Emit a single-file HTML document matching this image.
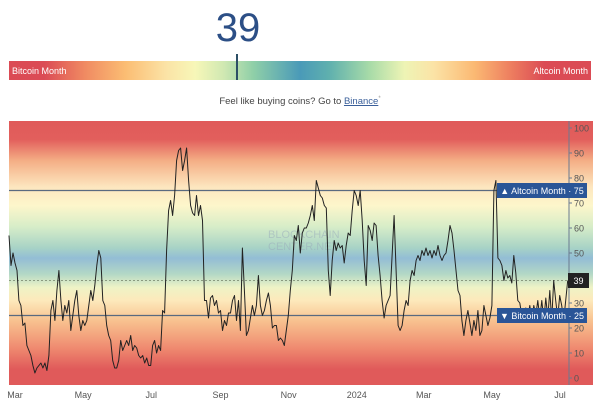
<!DOCTYPE html>
<html><head><meta charset="utf-8"><style>
body{margin:0;width:600px;height:406px;background:#fff;font-family:"Liberation Sans",sans-serif;overflow:hidden;position:relative}
.abs{position:absolute}
</style></head><body>
<div class="abs" style="left:200px;top:6px;width:76px;text-align:center;font-size:40px;color:#2c4f86;line-height:44px">39</div>
<div class="abs" style="left:9px;top:61px;width:582px;height:19px;background:linear-gradient(to right,#db4b55 0%,#db4b55 6%,#f08a62 13%,#fbbd73 20%,#fbe3a6 27%,#f7f7b8 32%,#cfe8b2 37%,#8fcfa8 42%,#4a9ab8 50%,#5fb0ae 55%,#a8dba8 62%,#eef4b5 68%,#fbe3a6 73%,#fbb973 80%,#ee8060 86%,#db4b55 92%,#db4b55 100%)"></div>
<div class="abs" style="left:12px;top:66px;font-size:9px;color:#fff">Bitcoin Month</div>
<div class="abs" style="right:12px;top:66px;font-size:9px;color:#fff">Altcoin Month</div>
<div class="abs" style="left:236px;top:54px;width:2px;height:26px;background:#2c4f66"></div>
<div class="abs" style="left:0;top:96px;width:600px;text-align:center;font-size:9.5px;color:#444">Feel like buying coins? Go to <span style="color:#3a5f9a;text-decoration:underline">Binance</span><sup style="font-size:6px;color:#999">*</sup></div>
<svg class="abs" style="left:0;top:0" width="600" height="406">
<defs><linearGradient id="bg" x1="0" y1="121" x2="0" y2="385" gradientUnits="userSpaceOnUse">
<stop offset="0" stop-color="#e05a5a"/><stop offset="0.07" stop-color="#e25f5c"/><stop offset="0.15" stop-color="#f4ae85"/><stop offset="0.25" stop-color="#fde6bf"/><stop offset="0.32" stop-color="#fdf6cb"/><stop offset="0.4" stop-color="#d7edc8"/><stop offset="0.48" stop-color="#a8d3c6"/><stop offset="0.52" stop-color="#93bdd5"/><stop offset="0.58" stop-color="#b3d8c6"/><stop offset="0.63" stop-color="#eef3c6"/><stop offset="0.68" stop-color="#fde9bb"/><stop offset="0.76" stop-color="#f8c08e"/><stop offset="0.86" stop-color="#ef8a70"/><stop offset="0.94" stop-color="#e05a5a"/><stop offset="1" stop-color="#e05a5a"/>
</linearGradient></defs>
<rect x="9" y="121" width="584" height="264" fill="url(#bg)"/>
<text x="268" y="238" font-size="11" fill="#9ab" opacity="0.5">BLOCKCHAIN</text>
<text x="268" y="250" font-size="11" fill="#9ab" opacity="0.5">CENTER.NET</text>
<g id="grid"></g><g id="line"></g><g id="axis"></g><g id="flags"></g>
</svg>
<script>
const values=[57,45,50,46,43,31,29,21,22,13,11,9,5,2,4,5,6,4,6,3,9,27,31,23,35,43,31,23,29,26,31,19,25,31,35,25,19,23,21,23,29,35,31,37,45,51,48,31,29,21,17,15,7,4,4,7,15,11,13,15,13,17,11,13,12,9,8,9,6,8,5,5,13,15,10,13,11,27,26,51,67,71,65,73,87,91,92,83,87,92,79,69,66,65,73,65,69,63,31,31,24,32,33,29,31,26,27,19,23,21,26,26,31,33,23,31,19,52,35,17,19,24,29,25,29,41,29,25,27,31,34,29,20,21,21,15,16,15,13,19,25,35,43,57,55,61,50,58,60,60,62,65,69,63,79,76,73,72,69,68,43,33,47,55,51,54,52,53,46,53,58,57,67,75,73,69,75,63,47,37,61,59,55,62,61,49,41,31,24,29,31,33,49,65,43,21,19,21,27,31,29,39,43,41,47,49,47,51,49,52,49,51,48,51,49,53,49,47,49,50,55,61,58,51,43,35,33,23,17,23,27,22,17,23,19,27,17,19,29,25,21,24,29,75,79,48,47,45,39,43,40,41,38,49,42,31,30,25,23,28,24,29,23,29,25,31,24,31,23,32,24,35,23,39,31,24,33,29,23,31,39];
const startDay=-5.4, stepDays=1.79*(559/((values.length-1)*2));
const tickDays=[0,61,122,184,245,306,366,427,488];
const tickLabels=["Mar","May","Jul","Sep","Nov","2024","Mar","May","Jul"];
const yTicks=[0,10,20,30,40,50,60,70,80,90,100];
const thresholds=[75,25];
const current=39;
const NS="http://www.w3.org/2000/svg";
const xs=d=>15+d*(545/488);
const ys=v=>378-v*2.5;
function mk(t,a,p){const e=document.createElementNS(NS,t);for(const k in a)e.setAttribute(k,a[k]);p.appendChild(e);return e;}
const grid=document.getElementById('grid'),line=document.getElementById('line'),axis=document.getElementById('axis'),flags=document.getElementById('flags');
thresholds.forEach((t,i)=>{const l=mk('line',{x1:9,x2:569,y1:ys(t),y2:ys(t),stroke:'#5a6a80','stroke-width':1.3},grid);

});
const cl=mk('line',{x1:9,x2:569,y1:ys(current),y2:ys(current),stroke:'#8a9a80','stroke-width':1,'stroke-dasharray':'2,2'},grid);


let d='';values.forEach((v,i)=>{d+=(i?'L':'M')+xs(startDay+i*stepDays).toFixed(1)+','+ys(v).toFixed(1);});
const p=mk('path',{d:d,fill:'none',stroke:'#222','stroke-width':1,'stroke-linejoin':'round'},line);


const ax=mk('line',{x1:569,x2:569,y1:121,y2:385,stroke:'#6a7a90','stroke-width':1},axis);


yTicks.forEach(t=>{mk('line',{x1:569,x2:572,y1:ys(t),y2:ys(t),stroke:'#6a7a90'},axis);
const tx=mk('text',{x:574,y:ys(t)+3.5,'font-size':9,fill:'#555'},axis);tx.textContent=t;

});
tickDays.forEach((td,i)=>{const tx=mk('text',{x:xs(td),y:398,'font-size':9,fill:'#555','text-anchor':'middle'},axis);tx.textContent=tickLabels[i];

});
function flag(v,label,name,x,w,col){const g=mk('g',{},flags);


mk('rect',{x:x,y:ys(v)-7.5,width:w,height:15,fill:col},g);
const t=mk('text',{x:x+w/2,y:ys(v)+3.5,'font-size':9,fill:'#fff','text-anchor':'middle'},g);t.textContent=label;}
flag(thresholds[0],'▲ Altcoin Month · '+thresholds[0],'altcoin-month-flag',497,90,'#2a5597');
flag(thresholds[1],'▼ Bitcoin Month · '+thresholds[1],'bitcoin-month-flag',497,90,'#2a5597');
flag(current,String(current),'current-value-flag',568,21,'#222');
</script>
</body></html>
